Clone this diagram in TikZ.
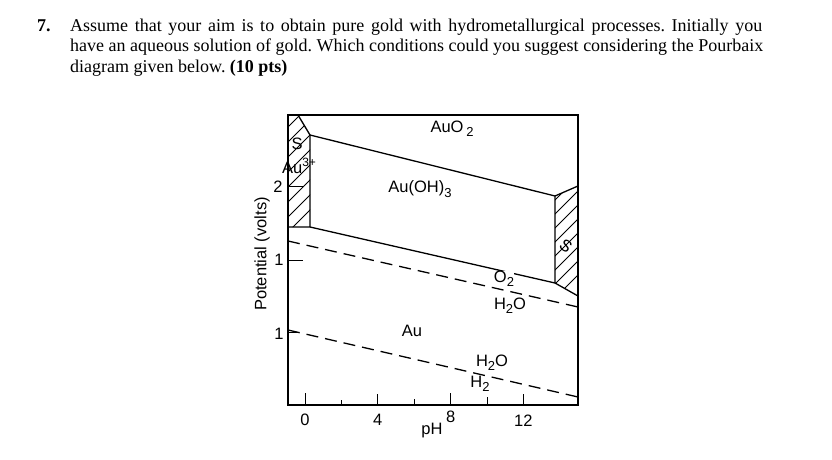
\documentclass[tikz,border=0pt]{standalone}
\usepackage{fontspec}
\setmainfont{Liberation Serif}
\newfontfamily\arialfont{Liberation Sans}
\tikzset{>=latex}
\newcommand{\chsub}[1]{\raisebox{-0.5ex}{\fontsize{13}{13}\selectfont #1}}
\newcommand{\chsup}[1]{\raisebox{0.8ex}{\fontsize{12}{12}\selectfont #1}}
\tikzstyle{lbl}=[font=\arialfont\fontsize{16.5}{19}\selectfont, inner sep=1pt]
\tikzstyle{bound}=[line width=1.3pt, line join=round]
\tikzstyle{redox}=[line width=1.3pt, dash pattern=on 12pt off 7pt]
\tikzstyle{hatch}=[line width=0.9pt]
\tikzstyle{qline}=[font=\fontsize{18}{20}\selectfont\frenchspacing, anchor=base west, inner sep=0pt]

\begin{document}
\begin{tikzpicture}[x=1pt,y=-1pt]
  \useasboundingbox (0,0) rectangle (832,460);
  \def\pHx#1{305+18.2*#1}

  % question
  \node[qline] (num) at (37,32) {\textbf{7.}};
  \node[qline] (q1) at (70,32) {\makebox[692pt][s]{Assume that your aim is to obtain pure gold with hydrometallurgical processes. Initially you}};
  \node[qline] (q2) at (70,52) {\makebox[693pt][s]{have an aqueous solution of gold. Which conditions could you suggest considering the Pourbaix}};
  \node[qline] (q3) at (70,72) {diagram given below. \textbf{(10 pts)}};

  % corners of the regions
  \coordinate (TL) at (288,115);
  \coordinate (BR) at (578,405);
  \coordinate (s1) at (298,115);
  \coordinate (s2) at (310,135);
  \coordinate (s3) at (310,227);
  \coordinate (s4) at (288,227);
  \coordinate (r1) at (555,196);
  \coordinate (r2) at (578,186);
  \coordinate (r3) at (578,296);
  \coordinate (r4) at (555,283);
  \coordinate (o1) at (288,241);
  \coordinate (o2) at (578,307);
  \coordinate (h1) at (288,330);
  \coordinate (h2) at (578,397);

  % hatched Au3+ (left)
  \begin{scope}
    \clip (TL) -- (s1) -- (s2) -- (s3) -- (s4) -- cycle;
    \foreach \k in {0,...,9}
      \draw[hatch] (280,240-\k*15) -- ++(40,-40);
  \end{scope}
  % hatched (right)
  \begin{scope}
    \clip (r1) -- (r2) -- (r3) -- (r4) -- cycle;
    \foreach \k in {0,...,8}
      \draw[hatch] (548,305-\k*14) -- ++(40,-40);
  \end{scope}

  \draw[bound] (s1) -- (s2) -- (s3) -- (s4);
  \draw[bound] (s2) -- (r1) -- (r2);
  \draw[bound] (r1) -- (r4) -- (r3);
  \draw[bound] (s3) -- (r4);

  % water lines
  \draw[redox] (o1) -- (o2);
  \draw[redox] (h1) -- (h2);

  % frame
  \draw[line width=2pt] (TL) rectangle (BR);

  % axis ticks
  \draw[line width=1pt] (288,186) -- (303,186);
  \draw[line width=1pt] (288,260) -- (303,260);
  \draw[line width=1pt] (288,332) -- (298,332);
  \foreach \p/\h in {0/12,2/5,4/11,6/6,8/12,10/8,12/11}
    \draw[line width=1pt] ({\pHx{\p}},405) -- ++(0,-\h);

  % axis labels
  \node[lbl] (y2) at (278,187) {2};
  \node[lbl] (y1) at (279,260) {1};
  \node[lbl] (y0) at (279,334) {1};
  \node[lbl] (x0) at ({\pHx{0}},420) {0};
  \node[lbl] (x4) at ({\pHx{4}},420) {4};
  \node[lbl] (x8) at ({\pHx{8}},417) {8};
  \node[lbl] (x12) at ({\pHx{12}},421) {12};
  \node[lbl] (pH) at (432,431) {pH};
  \node[lbl, rotate=90] (pot) at (262,254) {Potential (volts)};

  % species
  \node[lbl] (auo2) at (452,129) {AuO\,\chsub{2}};
  \node[lbl] (auoh) at (420,189) {Au(OH)\chsub{3}};
  \node[lbl] (au) at (412,331) {Au};
  \node[lbl, fill=white, inner sep=0pt] (o2lab) at (504,279) {O\chsub{2}};
  \node[lbl] (h2oa) at (510,306) {H\chsub{2}O};
  \node[lbl] (h2ob) at (492,363) {H\chsub{2}O};
  \node[lbl] (h2) at (480,384) {H\chsub{2}};
  \node[lbl] (sl) at (297,144) {S};
  \node[lbl, inner sep=0pt] (au3) at (299,166) {Au\chsup{3+}};
  \node[lbl, rotate=-35] (sr) at (566,246) {S};
\end{tikzpicture}
\end{document}
